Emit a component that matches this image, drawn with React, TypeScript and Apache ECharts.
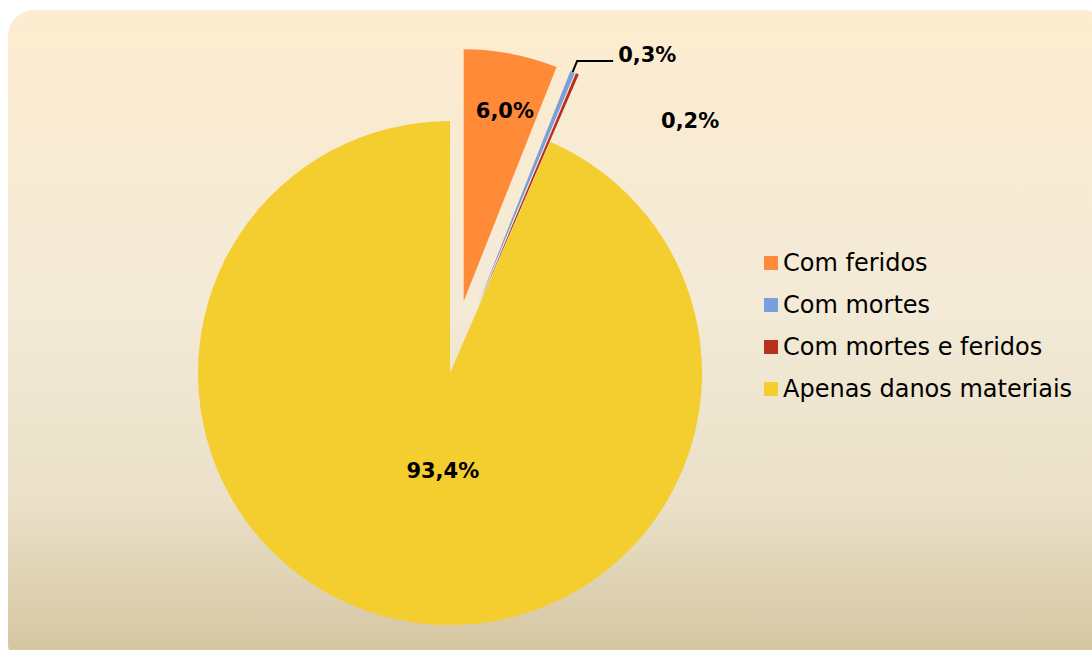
import React, { useEffect, useRef } from "react";
import * as echarts from "echarts";

const categories = ["Com feridos", "Com mortes", "Com mortes e feridos", "Apenas danos materiais"];
const values = [6.0, 0.3, 0.2, 93.4];
const colors = ["#FF8A38", "#7B9FDC", "#B5301F", "#F4CD2F"];
const exploded = [true, true, true, false];

const fmt = (v: number) => v.toFixed(1).replace(".", ",") + "%";

export default function App() {
  const ref = useRef<HTMLDivElement>(null);
  useEffect(() => {
    if (!ref.current) return;
    const chart = echarts.init(ref.current, null, { renderer: "svg" });
    const labelShift: Record<number, { dx: number; dy: number }> = {
      0: { dx: 17, dy: -64 },
      1: { dx: 0, dy: -6 },
      2: { dx: 38, dy: 58 },
      3: { dx: 19, dy: -28 },
    };
    chart.setOption({
      animation: false,
      graphic: [
        {
          type: "rect",
          z: -10,
          silent: true,
          shape: { x: 8, y: 10, width: 1100, height: 660, r: 26 },
          style: {
            fill: new echarts.graphic.LinearGradient(0, 0, 0, 1, [
              { offset: 0, color: "#FDECCF" },
              { offset: 0.45, color: "#F3EAD7" },
              { offset: 0.75, color: "#EAE0C8" },
              { offset: 1, color: "#D3C39D" },
            ]),
          },
        },
      ],
      legend: {
        orient: "vertical",
        left: 764,
        top: 249,
        padding: 0,
        itemWidth: 14,
        itemHeight: 14,
        itemGap: 14,
        icon: "rect",
        selectedMode: false,
        textStyle: { fontFamily: "DejaVu Sans", fontSize: 24, lineHeight: 28, color: "#000" },
        data: categories,
      },
      series: [
        {
          type: "pie",
          center: [450, 373],
          radius: 252,
          startAngle: 90,
          clockwise: true,
          selectedMode: "multiple",
          selectedOffset: 73,
          avoidLabelOverlap: false,
          emphasis: { disabled: true },
          label: {
            fontFamily: "DejaVu Sans",
            fontWeight: "bold",
            fontSize: 21,
            color: "#000",
            formatter: (p: any) => fmt(p.value),
          },
          labelLine: { lineStyle: { color: "#000", width: 2 } },
          labelLayout: (p: any) => {
            const s = labelShift[p.dataIndex];
            return s ? { dx: s.dx, dy: s.dy } : {};
          },
          data: categories.map((name, i) => ({
            name,
            value: values[i],
            selected: exploded[i],
            itemStyle: { color: colors[i] },
            label: i === 0 || i === 3 ? { position: "inside" } : { position: "outside" },
            labelLine:
              i === 1
                ? { show: true, length: 12, length2: 36 }
                : i === 2
                ? { show: false, length: 12, length2: 36 }
                : { show: false },
          })),
        },
      ],
    });
    return () => chart.dispose();
  }, []);
  return (
    <div
      ref={ref}
      style={{ position: "absolute", left: 0, top: 0, width: 1092, height: 650 }}
    />
  );
}
